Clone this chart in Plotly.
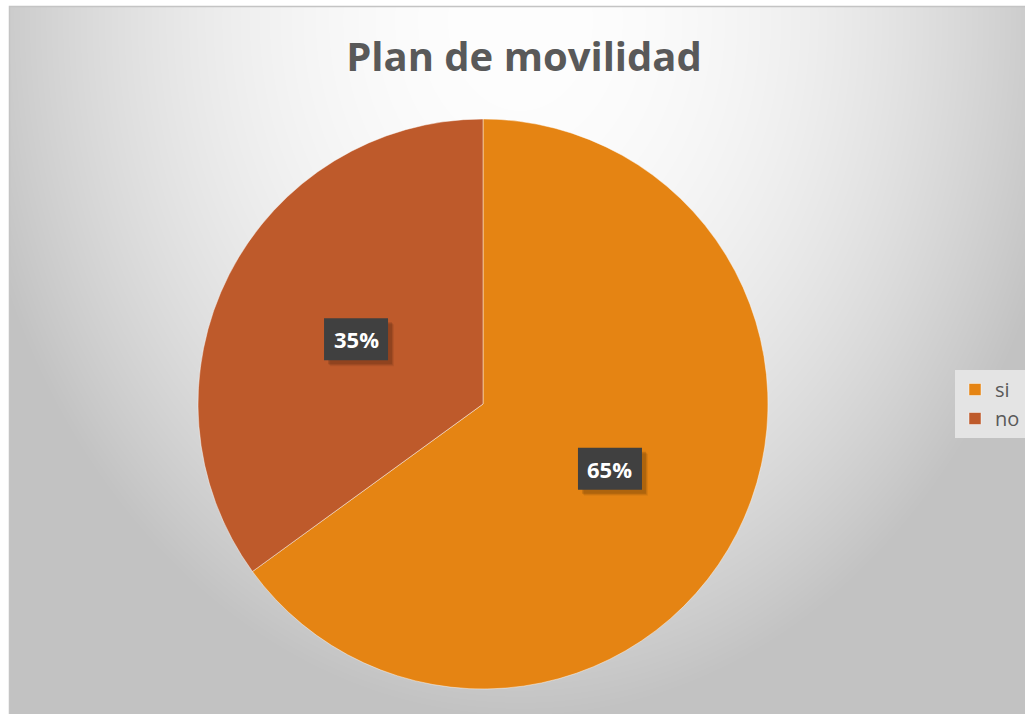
import base64
import struct
import zlib

import numpy as np
import plotly.graph_objects as go

# ---- data ----
categories = ["si", "no"]
values = [65, 35]
slice_colors = ["#E58413", "#BE5A2B"]
title_text = "Plan de movilidad"

W, H = 1025, 714

# ---- background radial gradient (style only) ----
def gray_png(arr):
    h, w = arr.shape
    raw = b"".join(b"\x00" + arr[i].tobytes() for i in range(h))

    def chunk(tag, data):
        c = struct.pack(">I", len(data)) + tag + data
        return c + struct.pack(">I", zlib.crc32(tag + data) & 0xFFFFFFFF)

    png = b"\x89PNG\r\n\x1a\n"
    png += chunk(b"IHDR", struct.pack(">IIBBBBB", w, h, 8, 0, 0, 0, 0))
    png += chunk(b"IDAT", zlib.compress(raw, 9))
    png += chunk(b"IEND", b"")
    return "data:image/png;base64," + base64.b64encode(png).decode()

bx0, by0 = 10, 7
bw, bh = W - bx0, H - by0
yy, xx = np.mgrid[0:bh, 0:bw]
cx, cy = 520 - bx0, 20 - by0
t = np.sqrt(((xx - cx) / 560.0) ** 2 + ((yy - cy) / 700.0) ** 2)
t = np.clip(t, 0, 1)
bg = (254 - 60 * t ** 2).astype(np.uint8)
bg_src = gray_png(bg)

# ---- pie geometry ----
pcx, pcy, R = 483, 404, 285
dom_x = [(pcx - R) / W, (pcx + R) / W]
dom_y = [1 - (pcy + R) / H, 1 - (pcy - R) / H]

fig = go.Figure()
fig.add_trace(go.Pie(
    labels=categories,
    values=values,
    sort=False,
    direction="clockwise",
    rotation=0,
    marker=dict(colors=slice_colors, line=dict(color="rgba(255,255,255,0.45)", width=1)),
    textinfo="none",
    hoverinfo="label+percent",
    domain=dict(x=dom_x, y=dom_y),
))

# data labels positioned from the values
total = float(sum(values))
annotations = []
shapes = []
bw2, bh2 = 32, 21
start = 0.0
for v in values:
    frac = v / total
    mid = (start + frac / 2) * 2 * np.pi
    start += frac
    px = pcx + 0.5 * R * np.sin(mid)
    py = pcy - 0.5 * R * np.cos(mid)
    label = f"{round(100 * frac)}%"
    # soft shadow
    for k, a in [(6, 0.06), (5, 0.08), (4, 0.12)]:
        shapes.append(dict(type="rect", xref="paper", yref="paper",
                           x0=(px - bw2 + k) / W, x1=(px + bw2 + k) / W,
                           y0=1 - (py + bh2 + k) / H, y1=1 - (py - bh2 + k) / H,
                           line=dict(width=0), fillcolor=f"rgba(0,0,0,{a})"))
    shapes.append(dict(type="rect", xref="paper", yref="paper",
                       x0=(px - bw2) / W, x1=(px + bw2) / W,
                       y0=1 - (py + bh2) / H, y1=1 - (py - bh2) / H,
                       line=dict(width=0), fillcolor="#404040"))
    annotations.append(dict(x=px / W, y=1 - py / H, xref="paper", yref="paper",
                            text=f"<b>{label}</b>", showarrow=False,
                            font=dict(family="Open Sans", size=22, color="white")))

shapes.append(dict(type="rect", xref="paper", yref="paper",
                   x0=(bx0 - 0.5) / W, y0=-0.2, x1=1.2, y1=1 - (by0 - 0.5) / H,
                   line=dict(color="#c4c4c4", width=1.5), fillcolor="rgba(0,0,0,0)",
                   layer="below"))

fig.update_layout(
    width=W, height=H,
    margin=dict(l=0, r=0, t=0, b=0),
    paper_bgcolor="white",
    plot_bgcolor="white",
    title=dict(text="<b>" + title_text + "</b>", x=524 / W, xanchor="center",
               y=1 - 57 / H, yanchor="middle",
               font=dict(family="Open Sans", size=40, color="#595959")),
    legend=dict(x=955 / W, y=1 - 404 / H, xanchor="left", yanchor="middle",
                bgcolor="#e4e4e4", font=dict(family="Open Sans", size=20, color="#595959"),
                itemwidth=30),
    images=[dict(source=bg_src, xref="paper", yref="paper",
                 x=bx0 / W, y=1 - by0 / H, sizex=bw / W, sizey=bh / H,
                 xanchor="left", yanchor="top", sizing="stretch", layer="below")],
    shapes=shapes,
    annotations=annotations,
)

fig.write_html("out.html", config={"displayModeBar": False},
               post_script="document.body.style.margin='0';")
